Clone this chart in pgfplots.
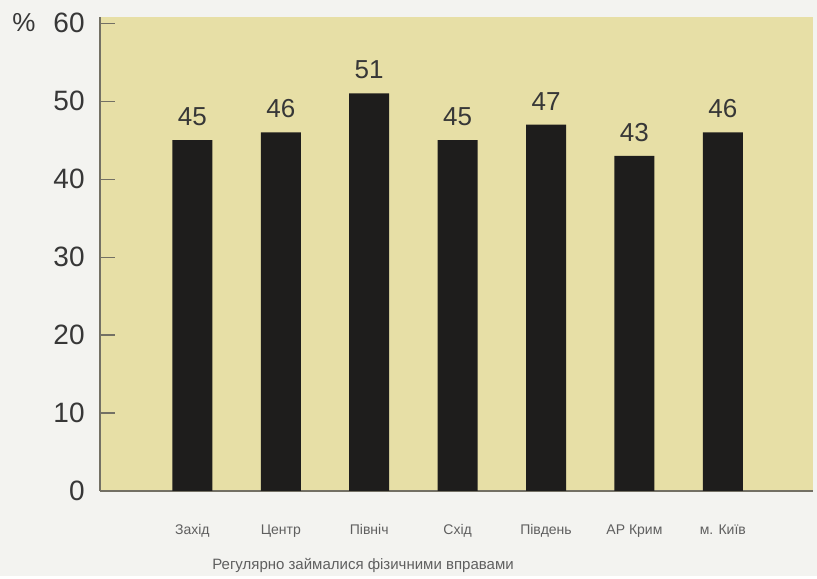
\documentclass[border=0pt]{standalone}
\usepackage{fontspec}
\setmainfont{Liberation Sans}
\usepackage{pgfplots}
\pgfplotsset{compat=1.18}

\definecolor{paper}{RGB}{243,243,240}
\definecolor{khaki}{RGB}{231,223,166}
\definecolor{barink}{RGB}{30,29,28}
\definecolor{axisgray}{RGB}{115,112,100}
\definecolor{textgray}{RGB}{55,55,55}
\definecolor{smallgray}{RGB}{95,95,95}

\begin{document}
\begin{tikzpicture}
  % page background
  \fill[paper] (-50pt,-42.5pt) rectangle (358.5pt,245.5pt);
  \begin{axis}[
    at={(0,0)}, anchor=south west,
    width=356.5pt, height=237pt, scale only axis,
    axis background/.style={fill=khaki},
    axis lines*=left,
    axis line style={axisgray, line width=0.6pt, -},
    ymin=0, ymax=60.8,
    ytick={0,10,20,30,40,50,60},
    tick align=inside,
    major tick length=7.5pt,
    ytick style={axisgray, line width=0.6pt},
    yticklabel style={font=\fontsize{14}{16}\selectfont, text=textgray,
                      inner sep=0pt, xshift=-7.5pt},
    /pgf/number format/assume math mode=true,
    xmin=-1.045, xmax=7.02,
    xtick=data,
    xticklabels={Захід, Центр, Північ, Схід, Південь, АР Крим, м. Київ},
    xtick style={draw=none},
    xticklabel style={font=\fontsize{7}{8}\selectfont, text=smallgray,
                      inner sep=0pt, anchor=base, yshift=-14.5pt},
    ybar, bar width=20pt, bar shift=0pt,
    nodes near coords,
    every node near coord/.append style={font=\fontsize{13}{15}\selectfont,
                      text=textgray, inner sep=0pt, anchor=south, yshift=7pt},
    clip=false,
  ]
    \addplot[fill=barink, draw=none] coordinates {
      (0,45) (1,46) (2,51) (3,45) (4,47) (5,43) (6,46)
    };
  \end{axis}
  \node[font=\fontsize{13}{15}\selectfont, text=textgray, anchor=base]
    at (-38pt,229.5pt) {\%};
  \node[font=\fontsize{7.5}{9}\selectfont, text=smallgray] at (131.5pt,-37pt)
    {Регулярно займалися фізичними вправами};
\end{tikzpicture}
\end{document}
